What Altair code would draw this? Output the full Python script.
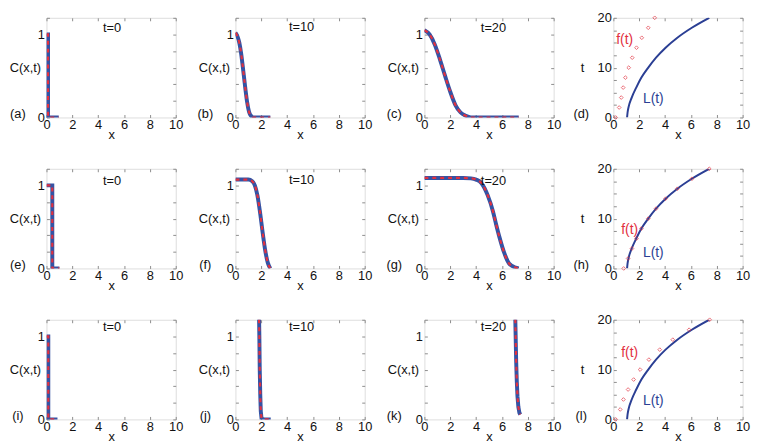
import altair as alt
import pandas as pd

# ---------------- data ----------------
X_TICKS = [0, 2, 4, 6, 8, 10]
C_TICKS = [0, 0.2, 0.4, 0.6, 0.8, 1.0, 1.2]
T_TICKS = [0, 2.5, 5, 7.5, 10, 12.5, 15, 17.5, 20]

# row 1
a_x = [0, 0.12, 0.12, 0.95]
a_c = [1.0, 1.0, 0.0, 0.0]
b_x = [0, 0.15, 0.3, 0.45, 0.6, 0.75, 0.9, 1.05, 1.2, 1.4, 2.0, 2.7]
b_c = [1.02, 0.98, 0.9, 0.76, 0.57, 0.37, 0.19, 0.07, 0.02, 0.0, 0.0, 0.0]
c_x = [0, 0.4, 0.8, 1.2, 1.6, 2.0, 2.4, 2.8, 3.2, 3.6, 5.0, 7.3]
c_c = [1.05, 1.0, 0.88, 0.7, 0.5, 0.31, 0.15, 0.06, 0.02, 0.0, 0.0, 0.0]
# row 2
e_x = [0, 0.45, 0.45, 1.0]
e_c = [1.0, 1.0, 0.0, 0.0]
f_x = [0, 0.5, 1.0, 1.3, 1.5, 1.7, 1.9, 2.1, 2.3, 2.5, 2.7]
f_c = [1.07, 1.07, 1.07, 1.05, 1.0, 0.88, 0.68, 0.44, 0.22, 0.07, 0.0]
g_x = [0, 1, 2, 3, 3.6, 4.0, 4.4, 4.9, 5.3, 5.55, 5.8, 6.17, 6.55, 7.05, 7.3]
g_c = [1.09, 1.09, 1.09, 1.09, 1.085, 1.07, 1.03, 0.88, 0.69, 0.53, 0.38, 0.19, 0.06, 0.01, 0.0]
# row 3
i_x = [0, 0.14, 0.14, 0.85]
i_c = [1.0, 1.0, 0.0, 0.0]
j_x = [1.82, 1.85, 1.88, 1.92, 1.96, 2.02, 2.2, 2.73]
j_c = [1.3, 1.0, 0.6, 0.3, 0.1, 0.01, 0.0, 0.0]
k_x = [7.02, 7.06, 7.1, 7.15, 7.2, 7.27, 7.35, 7.42]
k_c = [1.3, 1.0, 0.7, 0.45, 0.28, 0.15, 0.08, 0.06]

# front position L(t) and f(t)
L_t = [0, 1, 2, 4, 6, 8, 10, 12, 14, 16, 18, 20]
L_x = [1.06, 1.1, 1.17, 1.42, 1.77, 2.17, 2.7, 3.3, 4.04, 4.95, 6.07, 7.42]
F_t = [0, 2, 4, 6, 8, 10, 12, 14, 16, 18, 20]
d_fx = [0.18, 0.45, 0.61, 0.76, 0.93, 1.19, 1.46, 1.79, 2.2, 2.7, 3.2]
h_fx = [0.8, 1.14, 1.44, 1.79, 2.17, 2.7, 3.3, 4.04, 4.95, 6.08, 7.42]
l_fx = [0.18, 0.53, 0.78, 1.14, 1.57, 2.07, 2.75, 3.59, 4.6, 5.86, 7.45]

TIME_LABELS = ["t=0", "t=10", "t=20"]
LETTERS = ["(a)", "(b)", "(c)", "(d)", "(e)", "(f)", "(g)", "(h)", "(i)", "(j)", "(k)", "(l)"]

# ---------------- style ----------------
BLUE = "#3553a4"
RED = "#e2313f"
DARK = "#2b3f94"
FRAME = "#8c8c8c"
INK = "#111111"
FONT = "Liberation Sans"
W = 131
H = 101
TK = 3
FS = 13

XSC = alt.Scale(domain=[0, 10], nice=False, zero=False)
CSC = alt.Scale(domain=[0, 1.2], nice=False, zero=False)
TSC = alt.Scale(domain=[0, 20], nice=False, zero=False)


def bottom_axis():
    return alt.Axis(orient="bottom", values=X_TICKS, offset=-TK, tickSize=TK, tickColor=FRAME,
                    domain=False, grid=False, labelPadding=1, labelFlush=False, labelOverlap=False,
                    labelAngle=0, labelFont=FONT, labelFontSize=FS, labelColor=INK, format="d",
                    title="x", titleFont=FONT, titleFontSize=FS, titleFontWeight="normal",
                    titleColor=INK, titleY=21 + TK, titleBaseline="alphabetic")


def top_axis():
    return alt.Axis(orient="top", values=X_TICKS, offset=-TK, tickSize=TK, tickColor=FRAME,
                    domain=False, grid=False, labels=False, title=None)


def left_axis(values, expr, title, title_right):
    return alt.Axis(orient="left", values=values, offset=-TK, tickSize=TK, tickColor=FRAME,
                    domain=False, grid=False, labelPadding=2, labelFlush=False, labelOverlap=False,
                    labelFont=FONT, labelFontSize=FS, labelColor=INK, labelExpr=expr,
                    title=title, titleFont=FONT, titleFontSize=FS, titleFontWeight="normal",
                    titleColor=INK, titleAngle=0, titleAlign="right", titleBaseline="middle",
                    titleX=title_right - TK, titleY=H / 2)


def right_axis(values):
    return alt.Axis(orient="right", values=values, offset=-TK, tickSize=TK, tickColor=FRAME,
                    domain=False, grid=False, labels=False, title=None)


C_EXPR = "datum.value == 0 ? '0' : (datum.value == 1 ? '1' : '')"
T_EXPR = "(datum.value % 10 == 0) ? format(datum.value, 'd') : ''"


def text_layer(s, dx, dy, color=INK, size=FS):
    return alt.Chart(pd.DataFrame({"s": [s]})).mark_text(
        font=FONT, fontSize=size, color=color, align="center", baseline="middle"
    ).encode(text="s:N", x=alt.value(dx), y=alt.value(dy))


def c_panel(xs, cs, interp, tlabel, t_dx, t_dy, letter, l_dx):
    df = pd.DataFrame({"x": xs, "C": cs, "i": list(range(len(xs)))})
    base = alt.Chart(df)
    blue = base.mark_line(color=BLUE, strokeWidth=4, clip=True, interpolate=interp).encode(
        x=alt.X("x:Q", scale=XSC, axis=bottom_axis()),
        y=alt.Y("C:Q", scale=CSC, axis=left_axis(C_TICKS, C_EXPR, "C(x,t)", -6)),
        order="i:Q")
    red = base.mark_line(color=RED, strokeWidth=2.2, strokeDash=[4, 4], clip=True,
                         interpolate=interp).encode(
        x=alt.X("x:Q", scale=XSC, axis=top_axis()),
        y=alt.Y("C:Q", scale=CSC, axis=right_axis(C_TICKS)),
        order="i:Q")
    return alt.layer(
        blue, red, text_layer(tlabel, t_dx, t_dy), text_layer(letter, l_dx, H - 3)
    ).resolve_axis(x="independent", y="independent").properties(width=W, height=H)


def t_panel(fx, letter, f_dx, f_fy, l_dx, l_fy):
    ldf = pd.DataFrame({"x": L_x, "t": L_t})
    fdf = pd.DataFrame({"x": fx, "t": F_t})
    line = alt.Chart(ldf).mark_line(color=DARK, strokeWidth=2, clip=True,
                                    interpolate="monotone").encode(
        x=alt.X("x:Q", scale=XSC, axis=bottom_axis()),
        y=alt.Y("t:Q", scale=TSC, axis=left_axis(T_TICKS, T_EXPR, "t", -30)),
        order="t:Q")
    pts = alt.Chart(fdf).mark_point(shape="diamond", filled=False, color=RED, size=14,
                                    strokeWidth=1).encode(
        x=alt.X("x:Q", scale=XSC, axis=top_axis()),
        y=alt.Y("t:Q", scale=TSC, axis=right_axis(T_TICKS)))
    return alt.layer(
        line, pts,
        text_layer("f(t)", f_dx, f_fy * H, color=RED, size=14),
        text_layer("L(t)", l_dx, l_fy * H, color=DARK, size=14),
        text_layer(letter, -32.5, H - 3),
    ).resolve_axis(x="independent", y="independent").properties(width=W, height=H)


panels = [
    c_panel(a_x, a_c, "linear", TIME_LABELS[0], 66.5, 10, LETTERS[0], -29),
    c_panel(b_x, b_c, "monotone", TIME_LABELS[1], 67, 9, LETTERS[1], -30.5),
    c_panel(c_x, c_c, "monotone", TIME_LABELS[2], 70, 10, LETTERS[2], -30.5),
    t_panel(d_fx, LETTERS[3], 11.5, 0.22, 40.5, 0.82),
    c_panel(e_x, e_c, "linear", TIME_LABELS[0], 66.5, 12, LETTERS[4], -29),
    c_panel(f_x, f_c, "monotone", TIME_LABELS[1], 67, 11, LETTERS[5], -30.5),
    c_panel(g_x, g_c, "monotone", TIME_LABELS[2], 70, 12, LETTERS[6], -30.5),
    t_panel(h_fx, LETTERS[7], 16.5, 0.615, 40.5, 0.846),
    c_panel(i_x, i_c, "linear", TIME_LABELS[0], 66.5, 7, LETTERS[8], -29),
    c_panel(j_x, j_c, "linear", TIME_LABELS[1], 67, 7, LETTERS[9], -30.5),
    c_panel(k_x, k_c, "linear", TIME_LABELS[2], 70, 7, LETTERS[10], -30.5),
    t_panel(l_fx, LETTERS[11], 16.5, 0.333, 40.5, 0.82),
]

chart = alt.concat(
    *panels, columns=4, spacing={"row": 52, "column": 60.5}, bounds="flush", padding=0
).configure_view(stroke=FRAME, strokeWidth=1).configure(background="white")

chart.save("out.html", embed_options={"renderer": "svg", "actions": False})
